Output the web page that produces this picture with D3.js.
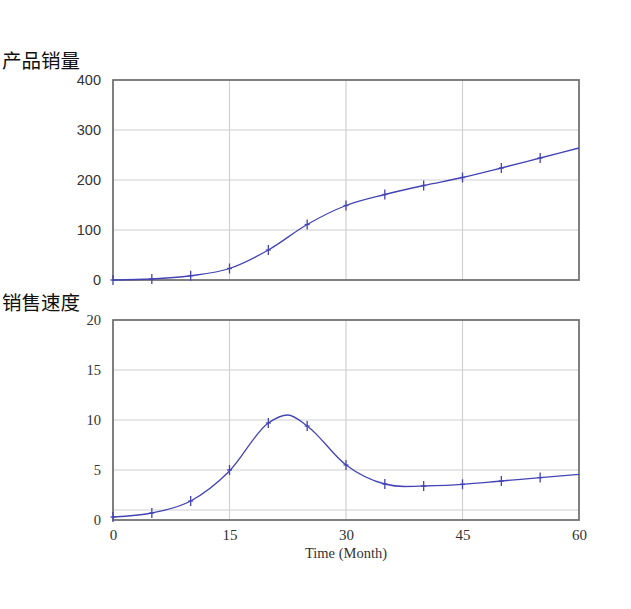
<!DOCTYPE html>
<html><head><meta charset="utf-8">
<script src="https://cdn.jsdelivr.net/npm/d3@7"></script>
<style>body{margin:0;background:#fff;}</style>
</head><body>
<svg id="c" width="631" height="609"></svg>
<script>
const months = [0,5,10,15,20,25,30,35,40,45,50,55,60];
const sales  = [0,2,8.5,23,60,111,149,171,189,205,224,244,264];
const markMonths = [0,5,10,15,20,25,30,35,40,45,50,55];
const speedMonths = [0,5,10,15,20,22.5,25,30,35,37.5,40,45,50,55,60];
const speed = [0.3,0.7,1.9,4.9,9.7,10.5,9.4,5.5,3.6,3.35,3.4,3.57,3.9,4.24,4.57];
const speedMarks = [0.3,0.7,1.9,5.0,9.7,9.4,5.5,3.6,3.4,3.57,3.9,4.24];
const xTicks = [0,15,30,45,60];
const salesTicks = [0,100,200,300,400];
const speedTicks = [0,5,10,15,20];
const speedGrid = [1,5,10,15];
const titles = ["产品销量","销售速度"];
const xLabel = "Time (Month)";

const svg = d3.select("#c");
const x = d3.scaleLinear().domain([0,60]).range([113,579]);
const lineColor = "#4444b4";

function panel(top, bottom, domain, ticks, grid, xs, ys, mx, my, title, titleY, tickFont, showX){
  const y = d3.scaleLinear().domain(domain).range([bottom, top]);
  const g = svg.append("g");
  g.selectAll(".gv").data(xTicks.slice(1,-1)).join("line")
    .attr("x1",d=>x(d)).attr("x2",d=>x(d)).attr("y1",top).attr("y2",bottom)
    .attr("stroke","#d0d0d0").attr("stroke-width",1.2);
  g.selectAll(".gh").data(grid).join("line")
    .attr("x1",x(0)).attr("x2",x(60)).attr("y1",d=>y(d)).attr("y2",d=>y(d))
    .attr("stroke","#d0d0d0").attr("stroke-width",1.2);
  g.append("rect").attr("x",x(0)).attr("y",top).attr("width",x(60)-x(0)).attr("height",bottom-top)
    .attr("fill","none").attr("stroke","#6a6a6a").attr("stroke-width",1.7);
  const ya = d3.axisLeft(y).tickValues(ticks).tickSize(0).tickPadding(12);
  const yg = g.append("g").attr("transform",`translate(${x(0)},0)`).call(ya);
  yg.select(".domain").remove();
  yg.selectAll("text").attr("font-family",tickFont).attr("font-size",14.5).attr("fill","#333");
  const line = d3.line().x((d,i)=>x(xs[i])).y(d=>y(d)).curve(d3.curveMonotoneX);
  g.append("path").datum(ys).attr("d",line).attr("fill","none").attr("stroke",lineColor).attr("stroke-width",1.3);
  const mk = g.selectAll(".mk").data(mx).join("g").attr("transform",(d,i)=>`translate(${x(d)},${y(my[i])})`);
  mk.append("line").attr("x1",0).attr("x2",0).attr("y1",-5).attr("y2",5).attr("stroke",lineColor).attr("stroke-width",1.3);
  mk.append("line").attr("x1",-2.5).attr("x2",2.5).attr("y1",0).attr("y2",0).attr("stroke",lineColor).attr("stroke-width",1.3);
  svg.append("text").attr("x",2).attr("y",titleY).text(title)
    .attr("font-family","Noto Sans CJK SC").attr("font-size",19.5).attr("fill","#111");
  if(showX){
    const xa = d3.axisBottom(x).tickValues(xTicks).tickSize(0).tickPadding(9);
    const xg = svg.append("g").attr("transform",`translate(0,${bottom})`).call(xa);
    xg.select(".domain").remove();
    xg.selectAll("text").attr("font-family","Liberation Serif").attr("font-size",15).attr("fill","#333");
    svg.append("text").attr("x",x(30)).attr("y",bottom+38).attr("text-anchor","middle")
      .text(xLabel).attr("font-family","Liberation Serif").attr("font-size",14.5).attr("fill","#333");
  }
}

panel(80,280,[0,400],salesTicks,salesTicks.slice(1,-1),months,sales,markMonths,sales.slice(0,12),titles[0],68,"Liberation Sans",false);
panel(320,520,[0,20],speedTicks,speedGrid,speedMonths,speed,markMonths,speedMarks,titles[1],310,"Liberation Serif",true);
</script>
</body></html>
